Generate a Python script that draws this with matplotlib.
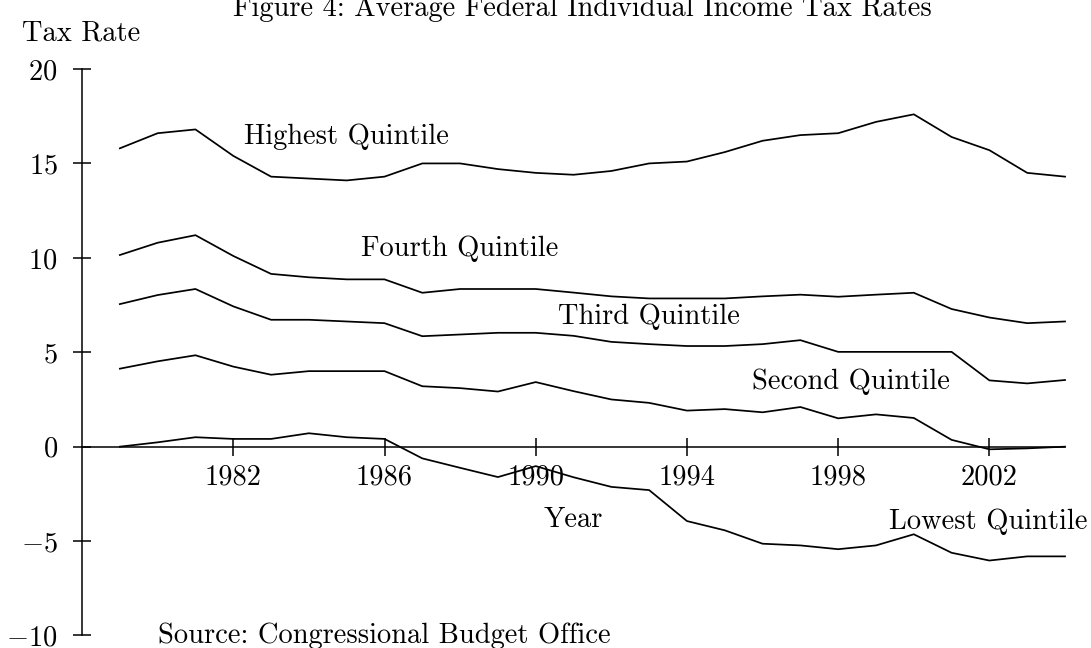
import matplotlib

matplotlib.use("Agg")

import matplotlib.pyplot as plt  # noqa: E402
from matplotlib.ticker import FuncFormatter  # noqa: E402

years = list(range(1979, 2005))

highest = [15.8, 16.6, 16.8, 15.4, 14.3, 14.2, 14.1, 14.3, 15.0, 15.0, 14.7, 14.5, 14.4,
           14.6, 15.0, 15.1, 15.6, 16.2, 16.5, 16.6, 17.2, 17.6, 16.4, 15.7, 14.5, 14.3]
fourth = [10.15, 10.8, 11.2, 10.1, 9.15, 8.97, 8.86, 8.86, 8.15, 8.35, 8.35, 8.35, 8.16,
          7.96, 7.85, 7.85, 7.85, 7.96, 8.05, 7.94, 8.05, 8.15, 7.29, 6.84, 6.54, 6.63]
third = [7.55, 8.03, 8.35, 7.43, 6.72, 6.72, 6.63, 6.54, 5.85, 5.94, 6.03, 6.03, 5.87,
         5.55, 5.43, 5.33, 5.33, 5.43, 5.64, 5.02, 5.02, 5.02, 5.02, 3.51, 3.35, 3.53]
second = [4.13, 4.52, 4.84, 4.24, 3.81, 4.0, 4.0, 4.0, 3.2, 3.1, 2.92, 3.42, 2.94,
          2.5, 2.32, 1.91, 1.99, 1.82, 2.1, 1.5, 1.71, 1.52, 0.36, -0.14, -0.09, 0.0]
lowest = [0.0, 0.23, 0.5, 0.41, 0.41, 0.71, 0.5, 0.41, -0.62, -1.12, -1.61, -1.03, -1.62,
          -2.13, -2.3, -3.94, -4.43, -5.14, -5.23, -5.43, -5.23, -4.64, -5.62, -6.03, -5.81, -5.81]

series = [highest, fourth, third, second, lowest]

# label text with its (x, y) spot in data units
series_labels = [
    ("Highest Quintile", 1985.0, 16.4),
    ("Fourth Quintile", 1988.0, 10.5),
    ("Third Quintile", 1993.0, 6.87),
    ("Second Quintile", 1998.35, 3.43),
]
lowest_label = ("Lowest Quintile", 1999.35, -3.99)

x_ticks = [1982, 1986, 1990, 1994, 1998, 2002]
y_ticks = [-10, -5, 0, 5, 10, 15, 20]

plt.rcParams["font.family"] = "cmr10"
plt.rcParams["mathtext.fontset"] = "cm"
plt.rcParams["axes.unicode_minus"] = False

FONT_SIZE = 20.5

figure = plt.figure(figsize=(10.91, 6.48), dpi=100)
axis = figure.add_axes([0.0752, 0.0193, 0.901, 0.8742])

for values in series:
    axis.plot(years, values, color="black", linewidth=1.25, clip_on=False)

axis.set_xlim(1978, 2004)
axis.set_ylim(-10, 20)

axis.spines["top"].set_visible(False)
axis.spines["right"].set_visible(False)
axis.spines["bottom"].set_position(("data", 0))
axis.spines["bottom"].set_linewidth(1.1)
axis.spines["left"].set_linewidth(1.1)

axis.set_xticks(x_ticks)
axis.set_yticks(y_ticks)
axis.yaxis.set_major_formatter(FuncFormatter(lambda v, _: f"${v:g}$"))
axis.tick_params(axis="both", direction="inout", length=13, width=1.1,
                 labelsize=FONT_SIZE)
axis.tick_params(axis="x", pad=6)
axis.tick_params(axis="y", pad=11)

for text, x_pos, y_pos in series_labels:
    axis.text(x_pos, y_pos, text, ha="center", va="center", fontsize=FONT_SIZE)
axis.text(lowest_label[1], lowest_label[2], lowest_label[0], ha="left",
          va="center", fontsize=FONT_SIZE)
axis.text(1991.0, -3.88, "Year", ha="center", va="center", fontsize=FONT_SIZE)

figure.text(0.534, 0.975, "Figure 4: Average Federal Individual Income Tax Rates",
            ha="center", va="baseline", fontsize=FONT_SIZE)
figure.text(0.020, 0.938, "Tax Rate", ha="left", va="baseline", fontsize=FONT_SIZE)
figure.text(0.145, 0.0077, "Source: Congressional Budget Office", ha="left",
            va="baseline", fontsize=FONT_SIZE)

figure.savefig("out.png", dpi=100)
plt.close(figure)
